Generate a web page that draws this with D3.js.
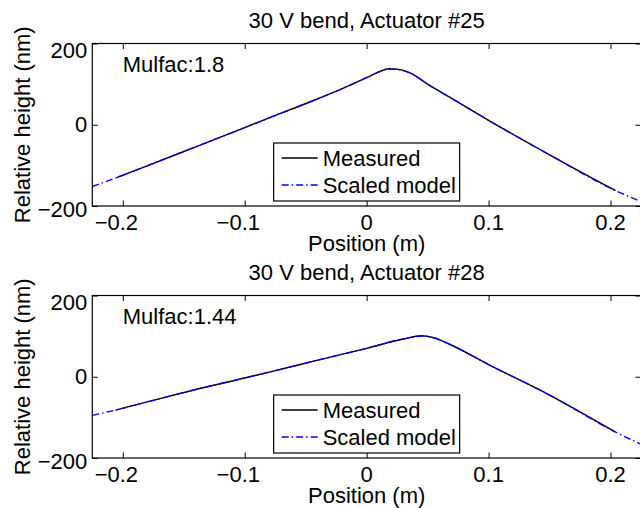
<!DOCTYPE html>
<html>
<head>
<meta charset="utf-8">
<script src="https://cdn.jsdelivr.net/npm/d3@7"></script>
<style>
  body { margin: 0; background: #fff; }
  text { font-family: "Liberation Sans", Arial, sans-serif; fill: #000; }
</style>
</head>
<body>
<div id="chart"></div>
<script>
// Data
const xTicks = [-0.2, -0.1, 0, 0.1, 0.2]
const yTicks = [-200, 0, 200]

// Actuator #25
const posMeasured25 = [-0.205, -0.18, -0.145, -0.1, -0.079, -0.04, -0.02, 0, 0.01, 0.018, 0.025, 0.036, 0.05, 0.068, 0.1, 0.15, 0.204]
const hMeasured25 = [-130, -101, -60, -7, 18, 64, 89, 116, 130, 138, 137, 127, 100, 68, 11, -74, -162]
const posModel25 = [-0.225, -0.205, -0.18, -0.145, -0.1, -0.079, -0.04, -0.02, 0, 0.01, 0.018, 0.025, 0.036, 0.05, 0.068, 0.1, 0.15, 0.204, 0.225]
const hModel25 = [-152, -130, -101, -60, -7, 18, 64, 89, 116, 130, 137, 136, 127, 100, 68, 11, -74, -162, -189]

// Actuator #28
const posMeasured28 = [-0.206, -0.18, -0.145, -0.1, -0.079, -0.04, 0, 0.03, 0.045, 0.055, 0.068, 0.1, 0.15, 0.204]
const hMeasured28 = [-82, -62, -35, -3, 12, 41, 70, 93, 101, 96, 80, 30, -45, -136]
const posModel28 = [-0.225, -0.206, -0.18, -0.145, -0.1, -0.079, -0.04, 0, 0.03, 0.045, 0.055, 0.068, 0.1, 0.15, 0.204, 0.225]
const hModel28 = [-95, -82, -62, -35, -3, 12, 41, 70, 93, 100, 96, 80, 30, -45, -136, -166]

const titles = ['30 V bend, Actuator #25', '30 V bend, Actuator #28']
const mulfacs = ['Mulfac:1.8', 'Mulfac:1.44']
const legendLabels = ['Measured', 'Scaled model']

const dimension = {
    width: 640,
    height: 508,
    left: 92.3,
    right: 641,
    panelHeight: 162.5,
    tops: [43.5, 295.5]
}
const fontSize = 22

const svg = d3.select('#chart')
    .append('svg')
    .attr('width', dimension.width)
    .attr('height', dimension.height)

const xScale = d3.scaleLinear()
    .domain([-0.225, 0.225])
    .range([dimension.left, dimension.right])

function drawPanel(top, title, mulfac, mx, my, sx, sy) {
    const h = dimension.panelHeight
    const w = dimension.right - dimension.left
    const yScale = d3.scaleLinear()
        .domain([-200, 200])
        .range([top + h, top])

    const g = svg.append('g')

    const clipId = 'clip' + Math.round(top)
    g.append('clipPath').attr('id', clipId)
        .append('rect')
        .attr('x', dimension.left).attr('y', top)
        .attr('width', w).attr('height', h)

    const line = (xs, ys) => d3.line()
        .x(i => xScale(xs[i]))
        .y(i => yScale(ys[i]))
        .curve(d3.curveMonotoneX)(d3.range(xs.length))

    const lines = g.append('g').attr('clip-path', `url(#${clipId})`)
    lines.append('path')
        .attr('d', line(mx, my))
        .attr('fill', 'none')
        .attr('stroke', '#000')
        .attr('stroke-width', 1.4)
    lines.append('path')
        .attr('d', line(sx, sy))
        .attr('fill', 'none')
        .attr('stroke', '#0000ff')
        .attr('stroke-width', 1.4)
        .attr('stroke-dasharray', '7,3,1.5,3')

    // axes with inward ticks on all sides
    const bottomAxis = d3.axisBottom(xScale).tickValues(xTicks).tickSize(-5.5).tickFormat('')
    const topAxis = d3.axisTop(xScale).tickValues(xTicks).tickSize(-5.5).tickFormat('')
    const leftAxis = d3.axisLeft(yScale).tickValues(yTicks).tickSize(-5.5).tickFormat('')
    const rightAxis = d3.axisRight(yScale).tickValues(yTicks).tickSize(-5.5).tickFormat('')

    const axes = [
        [bottomAxis, `translate(0,${top + h})`],
        [topAxis, `translate(0,${top})`],
        [leftAxis, `translate(${dimension.left},0)`],
        [rightAxis, `translate(${dimension.right},0)`]
    ]
    axes.forEach(([ax, tr]) => {
        const a = g.append('g').attr('transform', tr).call(ax)
        a.select('.domain').remove()
        a.selectAll('line').attr('stroke', '#000').attr('stroke-width', 1)
    })

    g.append('rect')
        .attr('x', dimension.left).attr('y', top)
        .attr('width', w).attr('height', h)
        .attr('fill', 'none')
        .attr('stroke', '#000')
        .attr('stroke-width', 1.2)

    const fmt = d => (d < 0 ? '\u2212' : '') + Math.abs(d)

    g.selectAll('.xlab')
        .data(xTicks)
        .join('text')
        .attr('x', d => xScale(d))
        .attr('dx', d => d < 0 ? -0.292 * fontSize : 0)
        .attr('y', top + h + 24)
        .attr('text-anchor', 'middle')
        .style('font-size', fontSize + 'px')
        .text(fmt)

    g.selectAll('.ylab')
        .data(yTicks)
        .join('text')
        .attr('x', dimension.left - 5)
        .attr('y', d => yScale(d) + (d === 200 ? 14 : d === -200 ? 11 : 7.5))
        .attr('text-anchor', 'end')
        .style('font-size', fontSize + 'px')
        .text(fmt)

    g.append('text')
        .attr('x', (dimension.left + dimension.right) / 2)
        .attr('y', top - 15.5)
        .attr('text-anchor', 'middle')
        .style('font-size', fontSize + 'px')
        .text(title)

    g.append('text')
        .attr('x', (dimension.left + dimension.right) / 2)
        .attr('y', top + h + 45)
        .attr('text-anchor', 'middle')
        .style('font-size', fontSize + 'px')
        .text('Position (m)')

    g.append('text')
        .attr('transform', `translate(30,${top + h / 2}) rotate(-90)`)
        .attr('text-anchor', 'middle')
        .style('font-size', fontSize + 'px')
        .text('Relative height (nm)')

    g.append('text')
        .attr('x', xScale(-0.2))
        .attr('y', yScale(150) + 8)
        .style('font-size', fontSize + 'px')
        .text(mulfac)

    // legend
    const lw = 186, lh = 58
    const lx = (dimension.left + dimension.right) / 2 - lw / 2
    const ly = top + h - 5 - lh
    const leg = g.append('g').attr('transform', `translate(${lx},${ly})`)
    leg.append('rect')
        .attr('width', lw).attr('height', lh)
        .attr('fill', '#fff')
        .attr('stroke', '#000')
        .attr('stroke-width', 1.2)
    const styles = [
        { stroke: '#000', dash: null },
        { stroke: '#0000ff', dash: '7,3,1.5,3' }
    ]
    legendLabels.forEach((lab, i) => {
        const yy = 15 + i * 27
        leg.append('line')
            .attr('x1', 8).attr('x2', 44)
            .attr('y1', yy).attr('y2', yy)
            .attr('stroke', styles[i].stroke)
            .attr('stroke-width', 1.4)
            .attr('stroke-dasharray', styles[i].dash)
        leg.append('text')
            .attr('x', 49)
            .attr('y', yy + 8)
            .style('font-size', fontSize + 'px')
            .text(lab)
    })
}

drawPanel(dimension.tops[0], titles[0], mulfacs[0], posMeasured25, hMeasured25, posModel25, hModel25)
drawPanel(dimension.tops[1], titles[1], mulfacs[1], posMeasured28, hMeasured28, posModel28, hModel28)
</script>
</body>
</html>
